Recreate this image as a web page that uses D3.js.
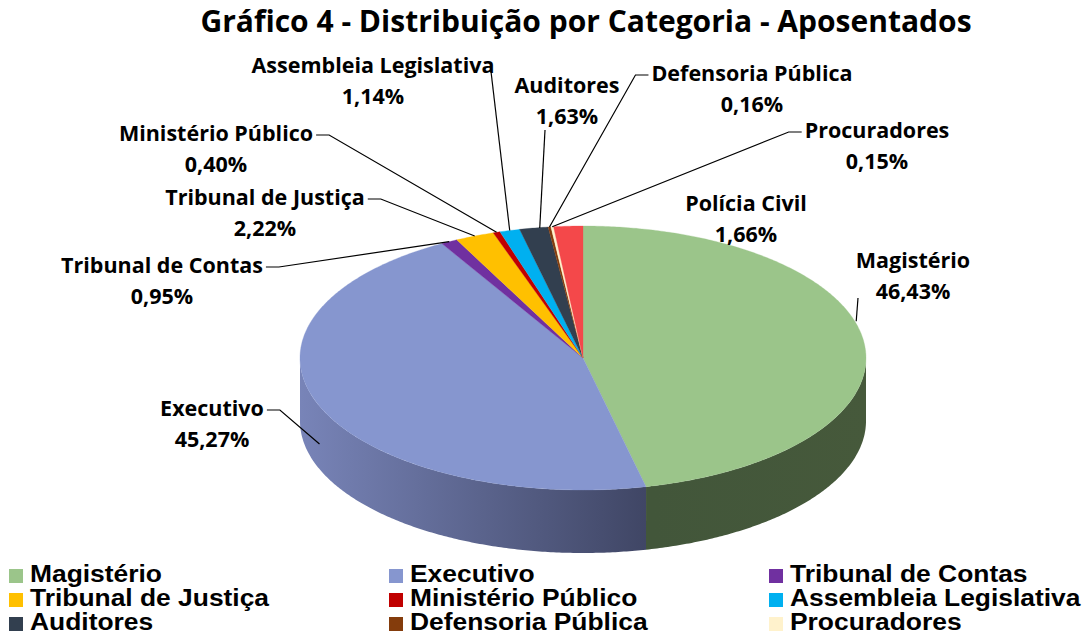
<!DOCTYPE html>
<html><head><meta charset="utf-8">
<script src="https://cdn.jsdelivr.net/npm/d3@7"></script>
<style>body{margin:0;background:#fff}svg{display:block}</style>
</head><body>
<svg id="c" width="1090" height="639"></svg>
<script>
const categories = ["Magistério","Executivo","Tribunal de Contas","Tribunal de Justiça","Ministério Público","Assembleia Legislativa","Auditores","Defensoria Pública","Procuradores","Polícia Civil"];
const values = [46.43,45.27,0.95,2.22,0.40,1.14,1.63,0.16,0.15,1.66];
const valueLabels = ["46,43%","45,27%","0,95%","2,22%","0,40%","1,14%","1,63%","0,16%","0,15%","1,66%"];
const colors = ["#9BC58A","#8696CF","#7030A0","#FFC000","#C00000","#00B0F0","#323F4F","#843C0C","#FFF2CC","#F4484A"];
const legendCategories = categories.slice(0,9);
const titleText = "Gráfico 4 - Distribuição por Categoria - Aposentados";

// layout (not data)
const W=1090,H=639, cx=583, cy=358, rx=283, ry=132, depth=63;
const labelLayout = {
 "Magistério":{x:913,y:268,side:"down",lead:true},
 "Executivo":{x:212,y:416,side:"right",lead:true,front:true},
 "Tribunal de Contas":{x:162,y:273,side:"right",lead:true},
 "Tribunal de Justiça":{x:265,y:205,side:"right",lead:true},
 "Ministério Público":{x:216,y:141,side:"right",lead:true},
 "Assembleia Legislativa":{x:373,y:73,side:"rightTop",lead:true},
 "Auditores":{x:567,y:93,side:"below",lead:true},
 "Defensoria Pública":{x:752,y:81,side:"left",lead:true},
 "Procuradores":{x:877,y:138,side:"left",lead:true},
 "Polícia Civil":{x:746,y:211,lead:false}
};

const svg = d3.select("#c");
const defs = svg.append("defs");
const gb = defs.append("linearGradient").attr("id","gBlue").attr("gradientUnits","userSpaceOnUse")
  .attr("x1",cx-rx).attr("x2",cx+80).attr("y1",0).attr("y2",0);
gb.append("stop").attr("offset","0%").attr("stop-color","#7884b8");
gb.append("stop").attr("offset","100%").attr("stop-color","#3d4361");
const gg = defs.append("linearGradient").attr("id","gGreen").attr("gradientUnits","userSpaceOnUse")
  .attr("x1",cx+70).attr("x2",cx+rx).attr("y1",0).attr("y2",0);
gg.append("stop").attr("offset","0%").attr("stop-color","#42563a");
gg.append("stop").attr("offset","100%").attr("stop-color","#46593b");
const sideFill = {"Magistério":"url(#gGreen)","Executivo":"url(#gBlue)"};

const pie = d3.pie().sort(null).value(d=>d.v);
const arcs = pie(categories.map((c,i)=>({c,v:values[i],col:colors[i],lab:valueLabels[i]})));

const px = a => cx + rx*Math.sin(a);
const py = (a,dy=0) => cy - ry*Math.cos(a) + dy;

function topPath(a0,a1){
  const n=Math.max(4,Math.ceil((a1-a0)/0.01));
  const pts=d3.range(n+1).map(i=>{const a=a0+(a1-a0)*i/n;return [px(a),py(a)];});
  return "M"+cx+","+cy+"L"+pts.map(p=>p.join(",")).join("L")+"Z";
}
function sidePath(a0,a1){
  const n=Math.max(4,Math.ceil((a1-a0)/0.01));
  const top=d3.range(n+1).map(i=>{const a=a0+(a1-a0)*i/n;return [px(a),py(a)];});
  const bot=top.slice().reverse().map(p=>[p[0],p[1]+depth]);
  return "M"+top.concat(bot).map(p=>p.join(",")).join("L")+"Z";
}

const g = svg.append("g");
arcs.forEach(d=>{
  const a0=Math.max(d.startAngle,Math.PI/2), a1=Math.min(d.endAngle,3*Math.PI/2);
  if(a1>a0){
    g.append("path").attr("d",sidePath(a0,a1)).attr("fill",sideFill[d.data.c]||d3.color(d.data.col).darker(1.2));
  }
});
arcs.forEach(d=>{
  g.append("path").attr("d",topPath(d.startAngle,d.endAngle)).attr("fill",d.data.col)
   .attr("stroke",d.data.col).attr("stroke-width",0.3);
});

// title
svg.append("text").attr("x",586).attr("y",32).attr("text-anchor","middle")
 .attr("font-family","'Open Sans',sans-serif").attr("font-weight","bold").attr("font-size",30)
 .attr("fill","#000").text(titleText);

// labels
const lf="'Open Sans',sans-serif", ls=21.5;
const lg=svg.append("g");
arcs.forEach(d=>{
  const L=labelLayout[d.data.c];
  const t1=lg.append("text").attr("x",L.x).attr("y",L.y).attr("text-anchor","middle")
   .attr("font-family",lf).attr("font-weight","bold").attr("font-size",ls).text(d.data.c);
  lg.append("text").attr("x",L.x).attr("y",L.y+31).attr("text-anchor","middle")
   .attr("font-family",lf).attr("font-weight","bold").attr("font-size",ls).text(d.data.lab);
  if(!L.lead) return;
  const w=t1.node().getComputedTextLength();
  const mid=(d.startAngle+d.endAngle)/2;
  const ex=px(mid), ey=py(mid, L.front?depth*0.6:0);
  let pts;
  if(L.side==="right"){const sx=L.x+w/2+3, sy=L.y-6; pts=[[sx,sy],[sx+13,sy],[ex,ey]];}
  else if(L.side==="rightTop"){const sx=L.x+w/2-4, sy=L.y-6; pts=[[sx,sy],[ex,ey]];}
  else if(L.side==="left"){const sx=L.x-w/2-3, sy=L.y-6; pts=[[sx,sy],[sx-13,sy],[ex,ey]];}
  else if(L.side==="below"){pts=[[L.x-22,L.y+37],[ex+6,ey]];}
  else if(L.side==="down"){pts=[[L.x-55,L.y+30],[ex-8,ey-22]];}
  lg.append("path").attr("d",d3.line()(pts)).attr("fill","none").attr("stroke","#000").attr("stroke-width",1.2);
});

// legend
const leg=svg.append("g");
legendCategories.forEach((c,i)=>{
  const col=i%3,row=Math.floor(i/3);
  const x=[9,389,769][col], y=576+row*24;
  leg.append("rect").attr("x",x).attr("y",y-7).attr("width",14).attr("height",14).attr("fill",colors[i]);
  leg.append("text").attr("transform",`translate(${x+21},${y+6}) scale(1.1,1)`)
   .attr("font-family","'Liberation Sans',Arial,sans-serif")
   .attr("font-weight","bold").attr("font-size",24).text(c);
});
</script>
</body></html>
